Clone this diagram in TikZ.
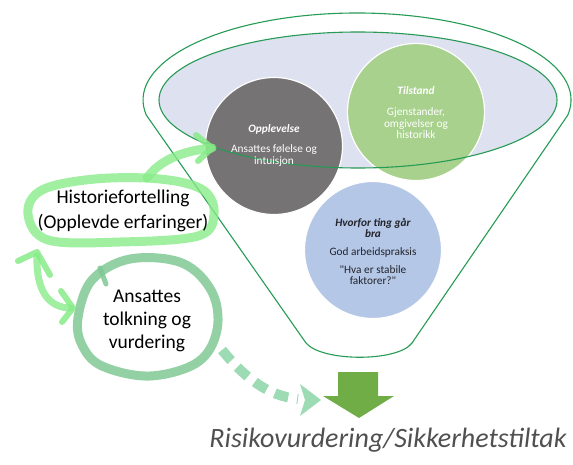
\documentclass[tikz,border=0pt]{standalone}
\usepackage{fontspec}
% Carlito without TeX ligature mapping, so straight quotes stay straight
\newfontfamily\carlito{Carlito}
\usetikzlibrary{arrows.meta}
\definecolor{funnelline}{RGB}{38,155,85}
\definecolor{bowl}{RGB}{222,225,239}
\definecolor{expgray}{RGB}{117,115,115}
\definecolor{stategreen}{RGB}{169,209,142}
\definecolor{whyblue}{RGB}{180,199,231}
\definecolor{penlight}{RGB}{135,235,135}
\definecolor{pensea}{RGB}{128,200,148}
\definecolor{pendash}{RGB}{145,215,172}
\definecolor{bigarrow}{RGB}{112,173,71}
\definecolor{captiongray}{RGB}{80,80,80}
\definecolor{darktext}{RGB}{35,35,42}
\begin{document}
\carlito
\begin{tikzpicture}[x=1pt,y=-1pt,
  topic/.style={circle, draw=white, line width=1.2pt, minimum size=137pt, inner sep=0pt},
  circtext/.style={align=center, font=\carlito\fontsize{11.3}{12}\selectfont, text=white},
  handtext/.style={align=center, font=\carlito\fontsize{19.5}{24.5}\selectfont, text=black},
  pen/.style={line width=9pt, line cap=round, line join=round},
  penwing/.style={line width=6pt, line cap=round, line join=round},
]
\useasboundingbox (0,0) rectangle (573,465);

% funnel body: upper rim of the outer ellipse, sides and rounded spout
\path[draw=funnelline, fill=white, line width=1.1pt]
  (146.3,115.1) arc[start angle=170, end angle=370, x radius=214, y radius=87]
  -- (412,343) .. controls (398,362) and (322,362) .. (306,343) -- cycle;

% inner bowl
\fill[bowl] (358,100) ellipse [x radius=199, y radius=68];

% topic circles
\node[topic, fill=expgray] (opp) at (274,146) {};
\node[topic, fill=stategreen] (til) at (416,112) {};
\node[topic, fill=whyblue] (hvo) at (373,250) {};

% bowl rim on top of the circles
\draw[funnelline, line width=1.1pt] (358,100) ellipse [x radius=199, y radius=68];

% hand-drawn loops around the two notes
\draw[pen, penlight, opacity=.78] plot[smooth cycle, tension=.6] coordinates
  {(28,214) (42,190) (95,179) (160,179) (203,190) (214,214) (198,236) (120,242) (48,240)};
\draw[pen, pensea, opacity=.85] plot[smooth cycle, tension=.6] coordinates
  {(78,318) (92,280) (130,259) (182,263) (212,292) (217,330) (198,362) (150,376) (102,366) (82,345)};
\draw[pensea, line width=5pt, line cap=round, opacity=.85] (100,268) -- (106,284);

% connector points
\coordinate (histtop) at (147,178);
\coordinate (opptip) at (212,148);
\coordinate (histlow) at (37,256);
\coordinate (anslft) at (71,308);
\coordinate (ansout) at (222,350);
\coordinate (dashend) at (298,399);

% story -> experience
\draw[pen, penlight, opacity=.78] (histtop) .. controls (160,160) and (182,151) .. (opptip);
\draw[penwing, penlight, opacity=.85] (196,135) -- (opptip) -- (198,161);

% story <-> interpretation
\draw[penwing, line width=7pt, penlight, opacity=.78] (histlow) .. controls (36,290) and (48,308) .. (anslft);
\draw[penwing, penlight, opacity=.85] (18,261) -- (37,252) -- (50,275);
\draw[penwing, penlight, opacity=.85] (61,291) -- (73,308) -- (62,322);

% interpretation -> outcome (dashed)
\draw[pendash, line width=10pt, dash pattern=on 14pt off 9pt, opacity=.9]
  (ansout) .. controls (245,378) and (268,396) .. (dashend);
\fill[pendash, opacity=.9] (300,384) -- (321,400) -- (300,416) -- (305,400) -- cycle;

% outcome arrow
\fill[bigarrow] (338,372) -- (378,372) -- (378,396) -- (394,396) -- (359,418)
  -- (323,396) -- (338,396) -- cycle;

% texts
\node[circtext] (opptxt) at (274,146)
  {\textbf{\textit{Opplevelse}}\\[8pt]Ansattes følelse og\\intuisjon};
\node[circtext, font=\carlito\fontsize{11.3}{11.7}\selectfont] (tiltxt) at (416,113)
  {\textbf{\textit{Tilstand}}\\[9pt]Gjenstander,\\omgivelser og\\historikk};
\node[circtext, text=darktext, font=\carlito\fontsize{11.3}{11}\selectfont] (hvotxt) at (373,251)
  {\textbf{\textit{Hvorfor ting går}}\\\textbf{\textit{bra}}\\[7pt]God arbeidspraksis\\[7pt]"Hva er stabile\\faktorer?"};

\node[handtext] (hist) at (123,211) {Historiefortelling\\(Opplevde erfaringer)};
\node[handtext, font=\carlito\fontsize{19.5}{23}\selectfont] (ans) at (147,321) {Ansattes\\tolkning og\\vurdering};

\node[font=\carlito\fontsize{28}{30}\selectfont\itshape, text=captiongray, inner sep=0pt] (risk) at (388,440)
  {Risikovurdering/Sikkerhetstiltak};
\end{tikzpicture}
\end{document}
